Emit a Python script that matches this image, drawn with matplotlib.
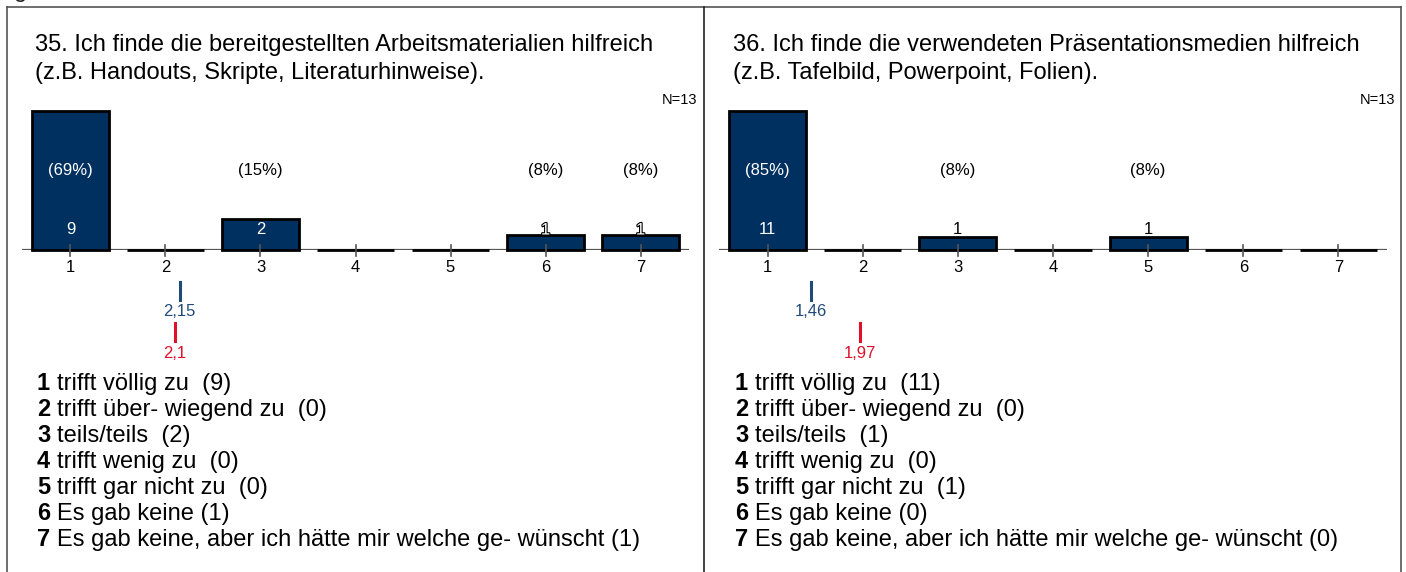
import matplotlib
matplotlib.use("Agg")
import matplotlib.pyplot as plt
from matplotlib.transforms import blended_transform_factory
import matplotlib.patheffects as pe

plt.rcParams['font.family'] = ['Liberation Sans', 'DejaVu Sans']

# ---------------- data ----------------
categories = [1, 2, 3, 4, 5, 6, 7]
titles = [
    "35. Ich finde die bereitgestellten Arbeitsmaterialien hilfreich\n(z.B. Handouts, Skripte, Literaturhinweise).",
    "36. Ich finde die verwendeten Präsentationsmedien hilfreich\n(z.B. Tafelbild, Powerpoint, Folien).",
]
counts_q35 = [9, 0, 2, 0, 0, 1, 1]
counts_q36 = [11, 0, 1, 0, 1, 0, 0]
n_q35 = 13
n_q36 = 13
mean_q35 = 2.15
mean_q36 = 1.46
ref_mean_q35 = 2.1
ref_mean_q36 = 1.97
mean_labels_q35 = ["2,15", "2,1"]
mean_labels_q36 = ["1,46", "1,97"]
answer_labels = [
    "trifft völlig zu",
    "trifft über- wiegend zu",
    "teils/teils",
    "trifft wenig zu",
    "trifft gar nicht zu",
    "Es gab keine",
    "Es gab keine, aber ich hätte mir welche ge- wünscht",
]
label_gaps = ["  ", "  ", "  ", "  ", "  ", " ", " "]

# ---------------- style ----------------
W, H = 1406, 572
DPI = 100
BAR = "#003060"
BLUE = "#1f4a7a"
RED = "#e0102a"
BIG = 17
SMALL = 12

fig = plt.figure(figsize=(W / DPI, H / DPI), dpi=DPI)
bg = fig.add_axes([0, 0, 1, 1])
bg.set_xlim(0, W)
bg.set_ylim(H, 0)
bg.axis("off")


def px_axes(x0, y0, x1, y1):
    return fig.add_axes([x0 / W, 1 - y1 / H, (x1 - x0) / W, (y1 - y0) / H])


# outer frame + divider
bg.plot([7, 1401], [7, 7], color="#555555", lw=1.2)
bg.plot([7, 7], [7, H + 5], color="#555555", lw=1.2)
bg.plot([1401, 1401], [7, H + 5], color="#555555", lw=1.2)
bg.plot([704, 704], [7, H + 5], color="#222222", lw=1.2)
# cut-off text remnant at very top
bg.text(14, -3, "g", fontsize=BIG, va="baseline", ha="left", color="#222222")

panels = [
    dict(x0=0, ax_x=(22, 689), counts=counts_q35, n=n_q35, mean=mean_q35,
         ref=ref_mean_q35, mlabels=mean_labels_q35, title=titles[0]),
    dict(x0=698, ax_x=(719, 1387), counts=counts_q36, n=n_q36, mean=mean_q36,
         ref=ref_mean_q36, mlabels=mean_labels_q36, title=titles[1]),
]

for p in panels:
    x0 = p["x0"]
    counts = p["counts"]
    n = p["n"]
    # title
    l1, l2 = p["title"].split("\n")
    bg.text(x0 + 35, 45, l1, fontsize=BIG, va="center", ha="left")
    bg.text(x0 + 35, 73, l2, fontsize=BIG, va="center", ha="left")
    bg.text(x0 + 697, 100, f"N={n}", fontsize=10.5, va="center", ha="right")

    ax = px_axes(p["ax_x"][0], 111, p["ax_x"][1], 250)
    ax.set_xlim(0.49, 7.51)
    ax.set_ylim(0, max(counts))
    ax.axis("off")
    # baseline
    ax.axhline(0, color="#555555", lw=1.6, zorder=1, xmin=0, xmax=1)
    ax.bar(categories, counts, width=0.81, color=BAR, edgecolor="black",
           linewidth=2.0, clip_on=False, zorder=2)
    tr = blended_transform_factory(ax.transData, bg.transData)
    top = max(counts)
    for c, v in zip(categories, counts):
        ax.plot([c, c], [245, 256], transform=tr, color="#555555", lw=1.2, zorder=3, clip_on=False)
        ax.text(c, 267, str(c), transform=tr, fontsize=SMALL, ha="center", va="center",
                clip_on=False)
        if v > 0:
            pct = f"({round(100 * v / n)}%)"
            inside = v / top > 0.6
            ax.text(c, 171, pct, transform=tr, fontsize=SMALL, ha="center", va="center",
                    color="white" if inside else "black", zorder=5, clip_on=False)
            bar_top = 250 - 139 * v / top
            if bar_top < 222:
                ax.text(c, 230, str(v), transform=tr, fontsize=SMALL, ha="center",
                        va="center", color="white", zorder=5, clip_on=False)
            elif bar_top < 237:
                t = ax.text(c, 230, str(v), transform=tr, fontsize=SMALL, ha="center",
                            va="center", color="white", zorder=5, clip_on=False)
                t.set_path_effects([pe.withStroke(linewidth=1.6, foreground="black")])
            else:
                ax.text(c, 230, str(v), transform=tr, fontsize=SMALL, ha="center",
                        va="center", color="black", zorder=5, clip_on=False)
    # mean markers
    ax.plot([p["mean"], p["mean"]], [282, 300], transform=tr, color=BLUE, lw=2.2, clip_on=False)
    ax.text(p["mean"], 312, p["mlabels"][0], transform=tr, fontsize=SMALL, ha="center",
            va="center", color=BLUE, clip_on=False)
    ax.plot([p["ref"], p["ref"]], [323, 341], transform=tr, color=RED, lw=2.2, clip_on=False)
    ax.text(p["ref"], 354, p["mlabels"][1], transform=tr, fontsize=SMALL, ha="center",
            va="center", color=RED, clip_on=False)

    # answer legend
    for i, (c, lab) in enumerate(zip(categories, answer_labels)):
        y = 384 + 26 * i
        bg.text(x0 + 37, y, str(c), fontsize=BIG, fontweight="bold", va="center", ha="left")
        bg.text(x0 + 57, y, f"{lab}{label_gaps[i]}({counts[i]})", fontsize=BIG,
                va="center", ha="left")

fig.savefig("out.png", dpi=DPI)
